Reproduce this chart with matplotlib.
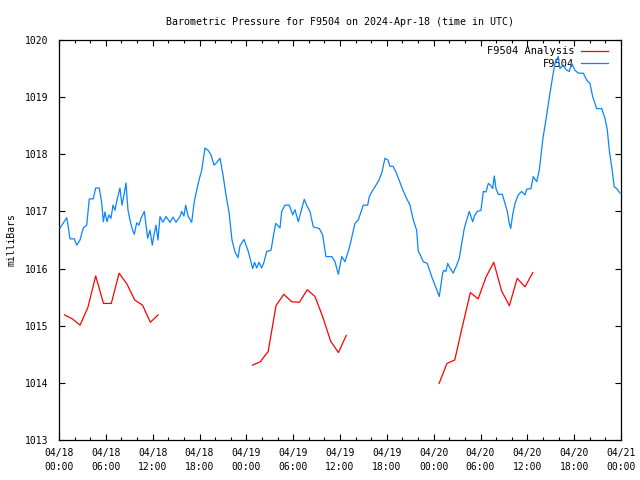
import numpy as np
import matplotlib
matplotlib.use("Agg")
import matplotlib.pyplot as plt
from matplotlib.ticker import MultipleLocator

# hours since 2024-04-18 00:00 UTC
station_h = [0.13, 0.99, 1.15, 1.41, 1.96, 2.27, 2.69, 3.11, 3.55, 3.88, 4.39, 4.70, 5.16, 5.47, 5.68,
             5.89, 6.15, 6.41, 6.66, 6.92, 7.17, 7.43, 7.81, 8.07, 8.33, 8.58, 8.84, 9.16, 9.44, 9.65,
             9.95, 10.25, 10.50, 10.93, 11.11, 11.36, 11.66, 11.95, 12.17, 12.43, 12.68, 12.94, 13.32,
             13.71, 14.22, 14.60, 14.99, 15.50, 15.72, 16.01, 16.23, 16.53, 17.00, 17.33, 17.64, 17.94,
             18.28, 18.70, 19.09, 19.47, 19.86, 20.24, 20.63, 21.01, 21.39, 21.78, 22.16, 22.55, 22.93,
             23.19, 23.70, 24.25, 24.81, 25.05, 25.33, 25.62, 25.97, 26.26, 26.61, 27.16, 27.45, 27.76,
             28.06, 28.31, 28.53, 28.95, 29.50, 29.94, 30.23, 30.66, 31.00, 31.42, 31.73, 32.15, 32.58,
             33.35, 33.78, 34.20, 34.94, 35.36, 35.78, 36.22, 36.64, 37.06, 37.28, 37.92, 38.34, 38.98,
             39.55, 39.75, 40.19, 40.61, 41.00, 41.38, 41.76, 42.15, 42.40, 42.79, 43.17, 43.68, 44.07,
             44.45, 44.97, 45.39, 45.82, 46.03, 46.25, 46.67, 47.18, 47.75, 48.39, 48.72, 48.93, 49.15,
             49.32, 49.58, 49.80, 50.09, 50.51, 50.95, 51.28, 51.59, 51.92, 52.23, 52.56, 53.00, 53.29,
             53.59, 54.06, 54.36, 54.70, 55.00, 55.28, 55.56, 55.77, 55.98, 56.28, 56.79, 57.14, 57.43,
             57.69, 57.87, 58.12, 58.42, 58.84, 59.27, 59.70, 59.92, 60.47, 60.76, 61.20, 61.53, 61.97,
             62.48, 62.90, 63.32, 63.54, 63.96, 64.18, 64.60, 65.04, 65.37, 65.68, 66.10, 66.53, 67.17,
             67.60, 68.02, 68.37, 68.66, 68.88, 69.52, 69.95, 70.24, 70.50, 70.81, 71.14, 71.45, 71.87]
station_mb = [1016.71, 1016.89, 1016.76, 1016.52, 1016.52, 1016.41, 1016.50, 1016.71, 1016.76, 1017.22,
              1017.22, 1017.41, 1017.41, 1017.15, 1016.82, 1016.99, 1016.82, 1016.94, 1016.88, 1017.11,
              1017.02, 1017.20, 1017.41, 1017.11, 1017.29, 1017.50, 1017.02, 1016.81, 1016.67, 1016.60,
              1016.80, 1016.76, 1016.88, 1017.00, 1016.80, 1016.53, 1016.67, 1016.41, 1016.59, 1016.76,
              1016.50, 1016.91, 1016.81, 1016.91, 1016.81, 1016.90, 1016.81, 1016.91, 1017.00, 1016.92,
              1017.11, 1016.92, 1016.81, 1017.17, 1017.37, 1017.55, 1017.72, 1018.11, 1018.07, 1017.99,
              1017.81, 1017.86, 1017.93, 1017.64, 1017.29, 1016.99, 1016.50, 1016.29, 1016.19, 1016.40,
              1016.51, 1016.30, 1016.00, 1016.11, 1016.01, 1016.11, 1016.01, 1016.11, 1016.30, 1016.32,
              1016.56, 1016.79, 1016.75, 1016.71, 1017.00, 1017.11, 1017.11, 1016.94, 1017.03, 1016.82,
              1017.00, 1017.21, 1017.11, 1017.00, 1016.73, 1016.70, 1016.59, 1016.21, 1016.21, 1016.12,
              1015.90, 1016.21, 1016.12, 1016.30, 1016.41, 1016.79, 1016.85, 1017.11, 1017.11, 1017.26,
              1017.37, 1017.46, 1017.55, 1017.69, 1017.93, 1017.90, 1017.79, 1017.79, 1017.69, 1017.51,
              1017.37, 1017.25, 1017.11, 1016.85, 1016.67, 1016.30, 1016.25, 1016.12, 1016.09, 1015.86,
              1015.63, 1015.51, 1015.71, 1015.92, 1015.97, 1015.95, 1016.09, 1016.01, 1015.92, 1016.06,
              1016.18, 1016.44, 1016.70, 1016.85, 1017.00, 1016.82, 1016.94, 1017.00, 1017.02, 1017.35,
              1017.34, 1017.49, 1017.46, 1017.40, 1017.62, 1017.40, 1017.30, 1017.30, 1017.14, 1017.00,
              1016.79, 1016.70, 1016.94, 1017.14, 1017.29, 1017.35, 1017.29, 1017.39, 1017.40, 1017.61,
              1017.52, 1017.72, 1018.25, 1018.69, 1019.07, 1019.42, 1019.59, 1019.71, 1019.50, 1019.56,
              1019.47, 1019.45, 1019.59, 1019.47, 1019.42, 1019.42, 1019.30, 1019.24, 1019.01, 1018.89,
              1018.80, 1018.80, 1018.63, 1018.43, 1018.07, 1017.78, 1017.43, 1017.40, 1017.32]

# analysis runs (hourly), three separate segments
ana1_h = [0.7, 1.7, 2.7, 3.7, 4.7, 5.7, 6.7, 7.7, 8.7, 9.7, 10.7, 11.7, 12.7]
ana1_mb = [1015.19, 1015.12, 1015.01, 1015.32, 1015.87, 1015.39, 1015.39, 1015.92, 1015.73, 1015.45,
           1015.36, 1015.06, 1015.19]
ana2_h = [24.8, 25.8, 26.8, 27.8, 28.8, 29.8, 30.8, 31.8, 32.8, 33.8, 34.8, 35.8, 36.8]
ana2_mb = [1014.31, 1014.37, 1014.55, 1015.35, 1015.55, 1015.42, 1015.41, 1015.63, 1015.51, 1015.15,
           1014.73, 1014.53, 1014.83]
ana3_h = [48.7, 49.7, 50.7, 51.7, 52.7, 53.7, 54.7, 55.7, 56.7, 57.7, 58.7, 59.7, 60.7]
ana3_mb = [1013.99, 1014.34, 1014.40, 1015.00, 1015.58, 1015.47, 1015.85, 1016.11, 1015.61, 1015.35,
           1015.83, 1015.68, 1015.93]

tick_h = list(range(0, 73, 6))
tick_lbl = ["04/18\n00:00", "04/18\n06:00", "04/18\n12:00", "04/18\n18:00",
            "04/19\n00:00", "04/19\n06:00", "04/19\n12:00", "04/19\n18:00",
            "04/20\n00:00", "04/20\n06:00", "04/20\n12:00", "04/20\n18:00", "04/21\n00:00"]

RED, BLUE = "#ff0000", "#0a84ff"
plt.rcParams["font.family"] = "DejaVu Sans Mono"
plt.rcParams["font.size"] = 7

fig = plt.figure(figsize=(6.4, 4.8), dpi=100)
ax = fig.add_axes([59 / 640, 40 / 480, 562 / 640, 400 / 480])

ax.plot(ana1_h, ana1_mb, color=RED, lw=0.9, label="F9504 Analysis", zorder=3)
ax.plot(ana2_h, ana2_mb, color=RED, lw=0.9, zorder=3)
ax.plot(ana3_h, ana3_mb, color=RED, lw=0.9, zorder=3)
ax.plot(station_h, station_mb, color=BLUE, lw=0.9, label="F9504", zorder=3)

ax.set_xlim(0, 72)
ax.set_ylim(1013, 1020)
ax.set_xticks(tick_h)
ax.set_xticklabels(tick_lbl, linespacing=1.5)
ax.xaxis.set_minor_locator(MultipleLocator(2))
ax.yaxis.set_major_locator(MultipleLocator(1))
ax.yaxis.set_major_formatter(matplotlib.ticker.FormatStrFormatter("%d"))
ax.tick_params(axis="x", which="major", direction="in", length=4, width=0.8, top=True, pad=6)
ax.tick_params(axis="x", which="minor", direction="in", length=2, width=0.8, top=True)
ax.tick_params(axis="y", which="major", direction="in", length=4, width=0.8, right=True, pad=8)
for s in ax.spines.values():
    s.set_linewidth(0.9)

ax.set_title("Barometric Pressure for F9504 on 2024-Apr-18 (time in UTC)", pad=11, fontsize=7.2)
fig.text(12 / 640, 0.5, "milliBars", rotation=90, ha="center", va="center", fontsize=7)

leg = ax.legend(loc="upper right", bbox_to_anchor=(1 - 7 / 562, 1), frameon=False,
                markerfirst=False, handlelength=2.6, labelspacing=0.25, borderaxespad=0.2,
                handletextpad=0.6, fontsize=7.5)
leg.set_zorder(1)

fig.savefig("out.png", dpi=100)
